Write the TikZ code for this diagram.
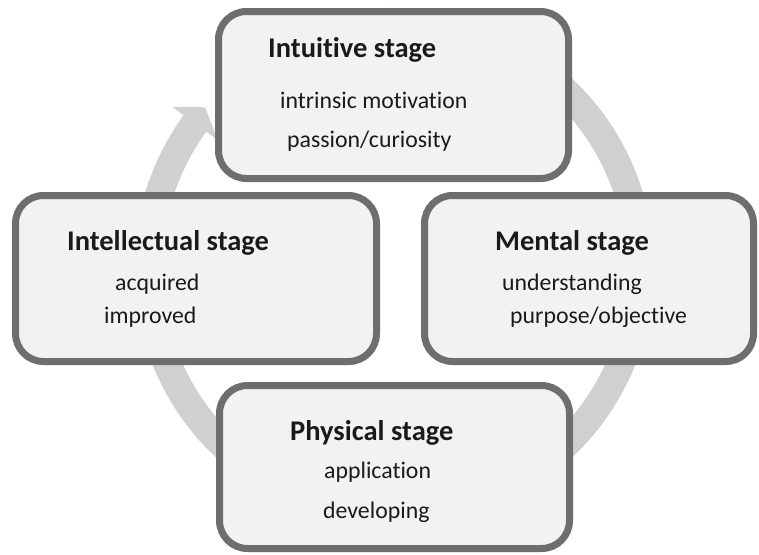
\documentclass[tikz,border=0pt]{standalone}
\usepackage{fontspec}
\setmainfont{Carlito}[Ligatures=NoCommon]
\usetikzlibrary{calc,shadows}
\definecolor{boxfill}{HTML}{F2F2F2}
\definecolor{boxline}{HTML}{6E6E6E}
\definecolor{arrowgray}{HTML}{D0D0D0}
\definecolor{txt}{HTML}{1A1A1A}
\begin{document}
\begin{tikzpicture}[x=1pt,y=1pt,
  stagebox/.style={draw=boxline, fill=boxfill, line width=7pt, rounded corners=28pt, inner sep=0pt,
    drop shadow={shadow xshift=2pt, shadow yshift=-3pt, opacity=0.25, fill=black}},
  title/.style={font=\fontsize{28.5}{32}\selectfont\bfseries, text=txt, inner sep=0pt, anchor=base west},
  body/.style={font=\fontsize{23.8}{28}\selectfont, text=txt, inner sep=0pt, anchor=base west}]
\useasboundingbox[fill=white] (0,0) rectangle (759,-554);
% circular arrow
\coordinate (c) at (394,-268);
\fill[arrowgray] ($(c)+(460:260pt)$) arc[start angle=460,end angle=144,radius=260pt]
  -- ($(c)+(144:274pt)$) -- ($(c)+(139.6:248pt)$) -- ($(c)+(144:218pt)$)
  -- ($(c)+(144:232pt)$) arc[start angle=144,end angle=460,radius=232pt] -- cycle;
% boxes
\node[stagebox, minimum width=350pt, minimum height=167pt] (intuitive) at (393.5,-95) {};
\node[stagebox, minimum width=361pt, minimum height=166pt] (intellectual) at (196,-278.5) {};
\node[stagebox, minimum width=329pt, minimum height=166pt] (mental) at (589,-278.5) {};
\node[stagebox, minimum width=350pt, minimum height=163pt] (physical) at (394.5,-467) {};
% texts
\node[title] (t1) at (268,-57) {Intuitive stage};
\node[body] (t1a) at (280,-108) {intrinsic motivation};
\node[body] (t1b) at (287,-147) {passion/curiosity};
\node[title] (t2) at (67,-250) {Intellectual stage};
\node[body] (t2a) at (115,-290) {acquired};
\node[body] (t2b) at (104,-323) {improved};
\node[title] (t3) at (495,-250) {Mental stage};
\node[body] (t3a) at (502,-290) {understanding};
\node[body] (t3b) at (510,-323) {purpose/objective};
\node[title] (t4) at (290,-440) {Physical stage};
\node[body] (t4a) at (324,-478) {application};
\node[body] (t4b) at (323,-518) {developing};
\end{tikzpicture}
\end{document}
